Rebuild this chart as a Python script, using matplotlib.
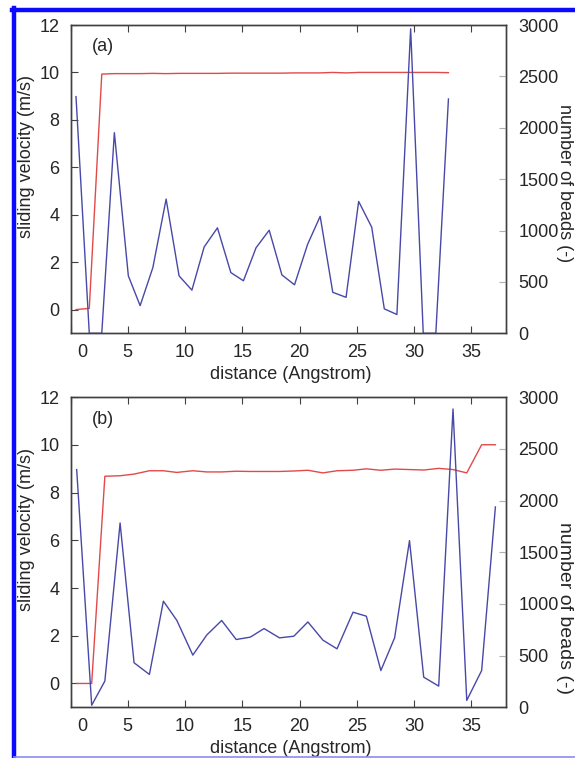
import matplotlib
matplotlib.use("Agg")
import matplotlib.pyplot as plt
from matplotlib.lines import Line2D
from matplotlib.transforms import ScaledTranslation

plt.rcParams['font.family'] = ['Liberation Sans', 'DejaVu Sans']

# panel (a)
dist_a = [0.48, 1.64, 2.73, 3.83, 5.05, 6.08, 7.19, 8.35, 9.48, 10.6,
          11.67, 12.83, 14.0, 15.1, 16.2, 17.35, 18.46, 19.56, 20.7, 21.8,
          22.9, 24.06, 25.16, 26.3, 27.4, 28.5, 29.7, 30.8, 31.9, 33.0]
vel_a = [0.0, 0.05, 9.93, 9.95, 9.95, 9.95, 9.96, 9.95, 9.96, 9.96,
         9.96, 9.96, 9.97, 9.97, 9.97, 9.97, 9.97, 9.98, 9.98, 9.98,
         10.0, 9.98, 10.0, 10.0, 10.0, 10.0, 10.0, 10.0, 10.0, 9.99]
beads_a = [2303, 0, 0, 1952, 559, 269, 639, 1306, 559, 420,
           840, 1026, 591, 511, 832, 1003, 568, 472, 865, 1138,
           399, 350, 1283, 1033, 238, 183, 2963, 0, 0, 2280]

# panel (b)
dist_b = [0.54, 1.85, 3.0, 4.33, 5.55, 6.89, 8.11, 9.28, 10.68, 11.9,
          13.2, 14.47, 15.7, 16.9, 18.25, 19.5, 20.73, 22.04, 23.27, 24.67,
          25.83, 27.1, 28.3, 29.6, 30.84, 32.15, 33.4, 34.6, 35.9, 37.1]
vel_b = [0.0, 0.0, 8.69, 8.71, 8.78, 8.92, 8.92, 8.85, 8.92, 8.87,
         8.87, 8.9, 8.89, 8.89, 8.89, 8.91, 8.94, 8.83, 8.92, 8.94,
         9.0, 8.94, 8.99, 8.97, 8.95, 9.02, 8.97, 8.83, 10.01, 10.01]
beads_b = [2300, 20, 254, 1784, 431, 318, 1027, 842, 505, 700,
           840, 656, 679, 762, 672, 688, 826, 650, 566, 920,
           882, 356, 672, 1613, 292, 205, 2887, 67, 356, 1939]

x_ticks = [0, 5, 10, 15, 20, 25, 30, 35]
vel_ticks = [0, 2, 4, 6, 8, 10, 12]
bead_ticks = [0, 500, 1000, 1500, 2000, 2500, 3000]

RED = '#e24a4a'
BLUE = '#4848a8'
INK = '#262626'
SPINE = '#404040'
FS = 13


def draw_panel(fig, rect, dist, vel, beads, tag, rlab_y, rlab_size):
    ax = fig.add_axes(rect)
    ax2 = ax.twinx()
    ax.plot(dist, vel, color=RED, lw=1.0)
    ax2.plot(dist, beads, color=BLUE, lw=1.0)

    ax.set_xlim(0, 38)
    ax.set_ylim(-1, 12)
    ax2.set_ylim(0, 3000)
    ax.set_xticks(x_ticks)
    ax.set_yticks(vel_ticks)
    ax2.set_yticks(bead_ticks)

    ax.tick_params(axis='x', direction='in', length=5, top=True, pad=8,
                   labelsize=FS, colors=INK, color=SPINE)
    ax.tick_params(axis='y', direction='in', length=5, pad=8,
                   labelsize=FS, colors=INK, color=SPINE)
    ax2.tick_params(axis='y', direction='in', length=5, pad=9,
                    labelsize=FS, colors=INK, color='#b0b0b0')
    for a in (ax, ax2):
        for s in a.spines.values():
            s.set_color(SPINE)
            s.set_linewidth(1.0)

    # the "0" label sits a bit right of the spine in the original
    lab0 = ax.xaxis.get_major_ticks()[0].label1
    lab0.set_transform(lab0.get_transform() +
                       ScaledTranslation(0.12, 0, fig.dpi_scale_trans))

    ax.set_xlabel('distance (Angstrom)', fontsize=FS, color=INK)
    ax.xaxis.set_label_coords(0.505, -0.105)
    ax.set_ylabel('sliding velocity (m/s)', fontsize=FS, color=INK)
    ax.yaxis.set_label_coords(-0.081, 0.572)
    ax2.set_ylabel('number of beads (-)', fontsize=rlab_size, color=INK,
                   rotation=-90, va='center')
    ax2.yaxis.set_label_coords(1.136, rlab_y)

    ax.text(0.075, 0.93, tag, transform=ax.transAxes, fontsize=FS,
            color=INK, ha='center', va='center')
    return ax


fig = plt.figure(figsize=(5.75, 7.58), dpi=100)
W, H = 575.0, 758.0

draw_panel(fig, [70.5 / W, 1 - 333.3 / H, 435.2 / W, 308.3 / H],
           dist_a, vel_a, beads_a, '(a)', 0.487, 13)
draw_panel(fig, [70.5 / W, 1 - 707.3 / H, 435.2 / W, 310.0 / H],
           dist_b, vel_b, beads_b, '(b)', 0.32, 14)

# blue selection frame from the screenshot
fig.add_artist(Line2D([14 / W, 14 / W], [0, 1 - 8 / H], color='#0a0aff',
                      lw=3.2, transform=fig.transFigure))
fig.add_artist(Line2D([12 / W, 1], [1 - 10 / H, 1 - 10 / H], color='#0a0aff',
                      lw=3.2, transform=fig.transFigure))
fig.add_artist(Line2D([14 / W, 1], [1 - 756.5 / H, 1 - 756.5 / H],
                      color='#8c8cf0', lw=1.2, transform=fig.transFigure))

fig.savefig('out.png', dpi=100)
